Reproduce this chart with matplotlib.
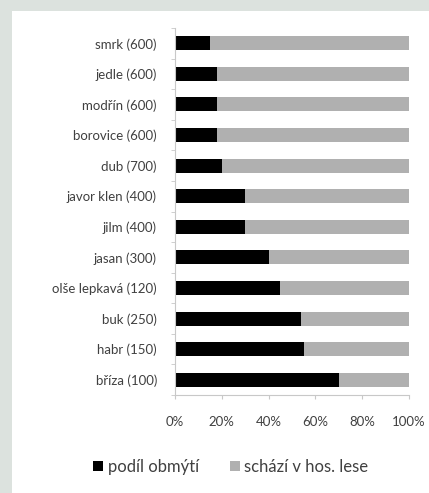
import matplotlib.pyplot as plt
from matplotlib.patches import Rectangle

# data, top to bottom
species = ["smrk (600)", "jedle (600)", "modřín (600)", "borovice (600)",
           "dub (700)", "javor klen (400)", "jilm (400)", "jasan (300)",
           "olše lepkavá (120)", "buk (250)", "habr (150)", "bříza (100)"]
podil = [15, 18, 18, 18, 20, 30, 30, 40, 45, 54, 55, 70]
schazi = [100 - v for v in podil]
xticks = [0, 20, 40, 60, 80, 100]

plt.rcParams["font.family"] = ["Lato", "DejaVu Sans"]

fig = plt.figure(figsize=(4.29, 4.93), dpi=100)
fig.patch.set_facecolor("#dce2de")
# white panel behind everything
fig.patches.append(Rectangle((12 / 429, 0), 1, 1 - 11 / 493, transform=fig.transFigure,
                             facecolor="white", edgecolor="none", zorder=-10))

ax = fig.add_axes([175 / 429, 1 - 395 / 493, 234 / 429, 367 / 493])
ax.set_facecolor("none")

y = list(range(len(species)))
ax.barh(y, podil, height=0.46, color="black", label="podíl obmýtí")
ax.barh(y, schazi, left=podil, height=0.46, color="#b0b0b0", label="schází v hos. lese")

ax.set_ylim(len(species) - 0.5, -0.5)
ax.set_xlim(0, 100)
ax.set_yticks(y)
ax.set_yticklabels(species)
ax.set_xticks(xticks)
ax.set_xticklabels([f"{t}%" for t in xticks])

ax.set_yticks([i - 0.5 for i in range(len(species) + 1)], minor=True)
ax.tick_params(axis="y", which="major", length=0, pad=13, labelsize=9.5, labelcolor="#404040")
ax.tick_params(axis="y", which="minor", length=3, color="#c8c8c8")
ax.tick_params(axis="x", length=3, color="#c8c8c8", pad=12, labelsize=9.5, labelcolor="#404040")

for s in ["top", "right"]:
    ax.spines[s].set_visible(False)
for s in ["left", "bottom"]:
    ax.spines[s].set_color("#c8c8c8")

fig.legend(loc="center", bbox_to_anchor=(231 / 429, 1 - 467 / 493), ncol=2, frameon=False,
           fontsize=12, handlelength=0.6, handleheight=0.6, handletextpad=0.3,
           columnspacing=1.8, labelcolor="#404040")

fig.savefig("out.png", dpi=100, facecolor=fig.get_facecolor())
